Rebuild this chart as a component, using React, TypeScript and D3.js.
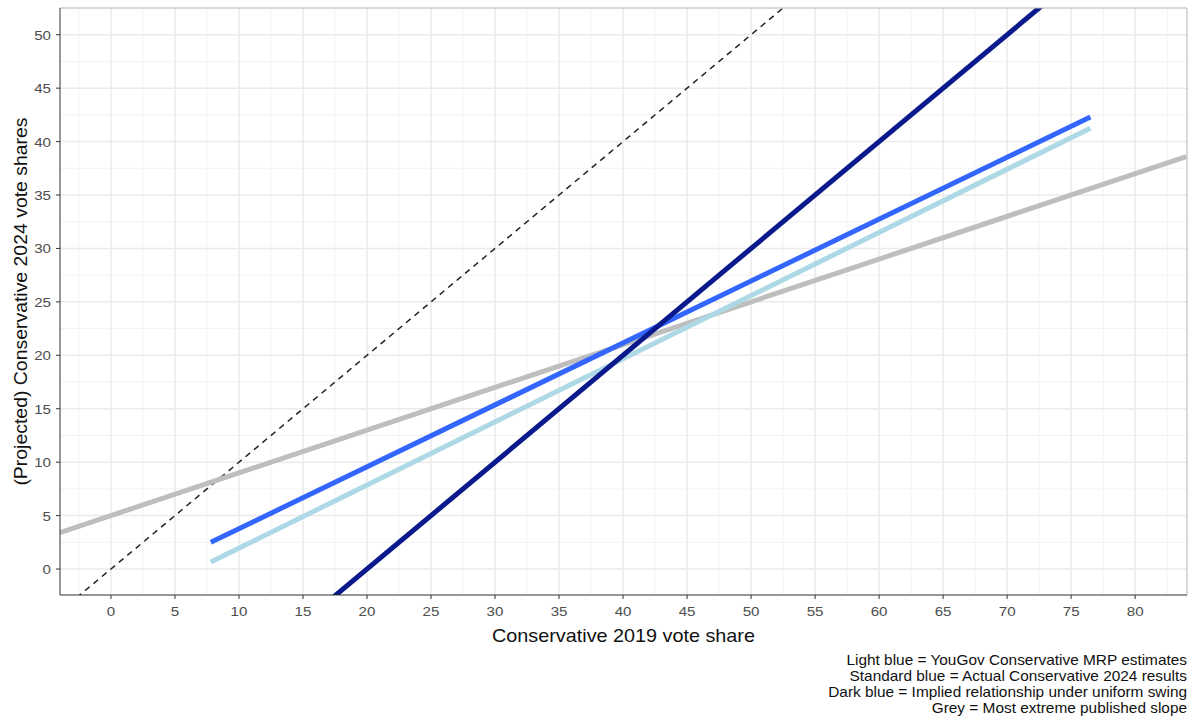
import * as d3 from 'd3'

const W = 1189, H = 720
const M = { left: 60, top: 8, right: 2, bottom: 125 }

const xTicks = d3.range(0, 81, 5)
const yTicks = d3.range(0, 51, 5)

// each line: [x0, y0, x1, y1]
const lightBlue = [7.8, 0.65, 76.5, 41.25]
const standardBlue = [7.8, 2.5, 76.5, 42.3]
const darkBlue = [-4, -24, 84, 64]
const greyLine = [-4, 3.4, 84, 38.6]
const identity = [-4, -4, 84, 84]

const captionLines = [
  'Light blue = YouGov Conservative MRP estimates',
  'Standard blue = Actual Conservative 2024 results',
  'Dark blue = Implied relationship under uniform swing',
  'Grey = Most extreme published slope',
]

const FONT = 'Liberation Sans, Arial, sans-serif'
const SX = 1.12 // the reference text is a bit wider than Liberation Sans

export default function App() {
  const x = d3.scaleLinear([-3.98, 84.05], [M.left, W - M.right])
  const y = d3.scaleLinear([-2.43, 52.5], [595, M.top])
  const [x0, x1] = x.range()
  const [yb, yt] = y.range()

  const minorX = d3.range(-2.5, 84, 5)
  const minorY = d3.range(2.5, 52.5, 5)

  const seg = (s: number[]) => `M${x(s[0])},${y(s[1])}L${x(s[2])},${y(s[3])}`
  const at = (tx: number, ty: number, sx = SX) => `translate(${tx},${ty}) scale(${sx},1)`

  return (
    <svg width={W} height={H} style={{ position: 'absolute', left: 0, top: 0, fontFamily: FONT }}>
      <defs>
        <clipPath id="panel">
          <rect x={x0} y={yt} width={x1 - x0} height={yb - yt} />
        </clipPath>
      </defs>
      <rect width={W} height={H} fill="#fff" />
      <g>
        {minorX.map(v => <line key={'mx' + v} x1={x(v)} x2={x(v)} y1={yt} y2={yb} stroke="#f2f2f2" strokeWidth={1} />)}
        {minorY.map(v => <line key={'my' + v} y1={y(v)} y2={y(v)} x1={x0} x2={x1} stroke="#f2f2f2" strokeWidth={1} />)}
        {xTicks.map(v => <line key={'gx' + v} x1={x(v)} x2={x(v)} y1={yt} y2={yb} stroke="#ebebeb" strokeWidth={1.5} />)}
        {yTicks.map(v => <line key={'gy' + v} y1={y(v)} y2={y(v)} x1={x0} x2={x1} stroke="#ebebeb" strokeWidth={1.5} />)}
      </g>
      <g clipPath="url(#panel)" fill="none">
        <path d={seg(identity)} stroke="#222" strokeWidth={1.5} strokeDasharray="6,5" />
        <path d={seg(greyLine)} stroke="#bebebe" strokeWidth={5} />
        <path d={seg(lightBlue)} stroke="#add8e6" strokeWidth={5} />
        <path d={seg(standardBlue)} stroke="#3366ff" strokeWidth={5} />
        <path d={seg(darkBlue)} stroke="#0a1a8c" strokeWidth={5} />
      </g>
      <line x1={x0} x2={x1} y1={yt} y2={yt} stroke="#b3b3b3" />
      <line x1={x1} x2={x1} y1={yt} y2={yb} stroke="#b3b3b3" />
      <line x1={x0} x2={x0} y1={yt} y2={yb} stroke="#333" />
      <line x1={x0} x2={x1} y1={yb} y2={yb} stroke="#333" />
      {xTicks.map(v => (
        <g key={'tx' + v}>
          <line x1={x(v)} x2={x(v)} y1={yb} y2={yb + 4} stroke="#333" />
          <text transform={at(x(v), 616)} textAnchor="middle" fontSize={13.5} fill="#4d4d4d">{v}</text>
        </g>
      ))}
      {yTicks.map(v => (
        <g key={'ty' + v}>
          <line x1={x0 - 4} x2={x0} y1={y(v)} y2={y(v)} stroke="#333" />
          <text transform={at(x0 - 9, y(v) + 5)} textAnchor="end" fontSize={13.5} fill="#4d4d4d">{v}</text>
        </g>
      ))}
      <text transform={at((x0 + x1) / 2, 642, 1.1)} textAnchor="middle" fontSize={18} fill="#111">Conservative 2019 vote share</text>
      <text transform={`translate(27,${(yt + yb) / 2}) rotate(-90) scale(1.08,1)`} textAnchor="middle" fontSize={18} fill="#111">
        (Projected) Conservative 2024 vote shares
      </text>
      {captionLines.map((t, i) => (
        <text key={t} transform={at(x1, 665 + i * 16, 1.1)} textAnchor="end" fontSize={14} fill="#111">{t}</text>
      ))}
    </svg>
  )
}
